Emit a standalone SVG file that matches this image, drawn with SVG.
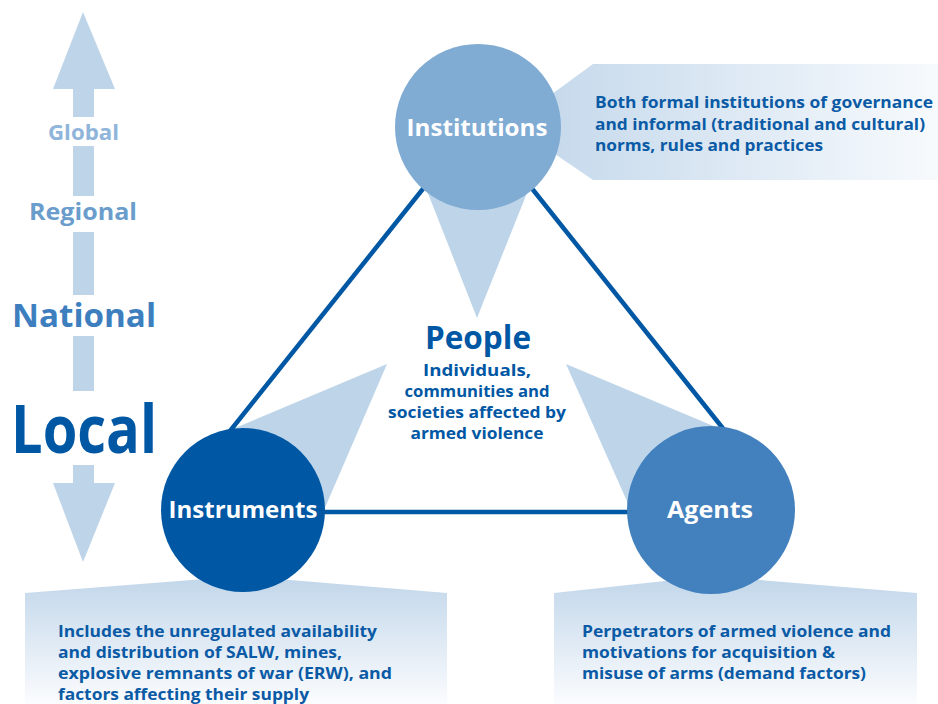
<svg xmlns="http://www.w3.org/2000/svg" width="938" height="704" viewBox="0 0 938 704">
<defs>
<linearGradient id="gH" x1="0" y1="0" x2="1" y2="0">
<stop offset="0" stop-color="#c1d6ea"/>
<stop offset="1" stop-color="#f7fafd"/>
</linearGradient>
<linearGradient id="gV" x1="0" y1="0" x2="0" y2="1">
<stop offset="0" stop-color="#c1d6ea"/>
<stop offset="1" stop-color="#fbfcfe"/>
</linearGradient>
<style>
text{font-family:"Open Sans","Liberation Sans",sans-serif;font-weight:bold}
.ptr{fill:#bed5e9}
.lbl{fill:#ffffff;font-size:24px;text-anchor:middle}
.desc{fill:#0a5aa5;font-size:16px}
.ppl{fill:#0057a4;text-anchor:middle}
.shaft{fill:#bed5e9}
</style>
</defs>
<rect width="938" height="704" fill="#ffffff"/>

<g id="scale">
<polygon class="shaft" points="83,12 115,89 53,89"/>
<rect class="shaft" x="73" y="89" width="21" height="28"/>
<rect class="shaft" x="73" y="146" width="21" height="50"/>
<rect class="shaft" x="73" y="232" width="21" height="63"/>
<rect class="shaft" x="73" y="336" width="21" height="55"/>
<rect class="shaft" x="73" y="465" width="21" height="18"/>
<polygon class="shaft" points="53,483 115,483 83,562"/>
<text x="83.5" y="140" font-size="21" fill="#8fb5da" text-anchor="middle" textLength="71" lengthAdjust="spacingAndGlyphs">Global</text>
<text x="83" y="220" font-size="23" fill="#6b9dcc" text-anchor="middle" textLength="108" lengthAdjust="spacingAndGlyphs">Regional</text>
<text x="84" y="327" font-size="32" fill="#3d7ebf" text-anchor="middle" textLength="144" lengthAdjust="spacingAndGlyphs">National</text>
<text x="84" y="453" font-size="66" fill="#0057a4" text-anchor="middle" textLength="146" lengthAdjust="spacingAndGlyphs">Local</text>
</g>

<g id="callout-institutions">
<polygon points="511,124 593,64 938,64 938,180 593,180" fill="url(#gH)"/>
<text class="desc" x="595" y="108" textLength="338" lengthAdjust="spacingAndGlyphs">Both formal institutions of governance</text>
<text class="desc" x="595" y="130" textLength="330" lengthAdjust="spacingAndGlyphs">and informal (traditional and cultural)</text>
<text class="desc" x="595" y="151" textLength="228" lengthAdjust="spacingAndGlyphs">norms, rules and practices</text>
</g>

<g id="callout-instruments">
<polygon points="25,593 243,576 447,593 447,704 25,704" fill="url(#gV)"/>
<text class="desc" x="58" y="637" textLength="319" lengthAdjust="spacingAndGlyphs">Includes the unregulated availability</text>
<text class="desc" x="58" y="658" textLength="284" lengthAdjust="spacingAndGlyphs">and distribution of SALW, mines,</text>
<text class="desc" x="58" y="679" textLength="334" lengthAdjust="spacingAndGlyphs">explosive remnants of war (ERW), and</text>
<text class="desc" x="58" y="700" textLength="251" lengthAdjust="spacingAndGlyphs">factors affecting their supply</text>
</g>

<g id="callout-agents">
<polygon points="554,593 711,576 917,593 917,704 554,704" fill="url(#gV)"/>
<text class="desc" x="582" y="637" textLength="309" lengthAdjust="spacingAndGlyphs">Perpetrators of armed violence and</text>
<text class="desc" x="582" y="658" textLength="253" lengthAdjust="spacingAndGlyphs">motivations for acquisition &amp;</text>
<text class="desc" x="582" y="679" textLength="284" lengthAdjust="spacingAndGlyphs">misuse of arms (demand factors)</text>
</g>

<g id="pointers">
<polygon class="ptr" points="418,168 537,168 477,318"/>
<polygon class="ptr" points="387,364 216,436 321,517"/>
<polygon class="ptr" points="566,364 634,517 730,433"/>
</g>

<g id="connectors" stroke="#0057a4" stroke-width="4.5" fill="none">
<line x1="430" y1="180" x2="226" y2="436"/>
<line x1="526" y1="181" x2="729" y2="436"/>
<line x1="320" y1="512" x2="635" y2="512"/>
</g>

<g id="node-institutions">
<circle cx="478" cy="127" r="83" fill="#80abd3"/>
<text class="lbl" x="477" y="136" textLength="141" lengthAdjust="spacingAndGlyphs">Institutions</text>
</g>

<g id="node-instruments">
<circle cx="243" cy="510" r="82" fill="#0057a4"/>
<text class="lbl" x="243" y="518" textLength="149" lengthAdjust="spacingAndGlyphs">Instruments</text>
</g>

<g id="node-agents">
<circle cx="711" cy="510" r="84" fill="#4281bd"/>
<text class="lbl" x="710" y="518" textLength="86" lengthAdjust="spacingAndGlyphs">Agents</text>
</g>

<g id="node-people">
<text class="ppl" x="478" y="349" font-size="32" textLength="106" lengthAdjust="spacingAndGlyphs">People</text>
<text class="ppl" x="477" y="376" font-size="16" textLength="108" lengthAdjust="spacingAndGlyphs">Individuals,</text>
<text class="ppl" x="477" y="397" font-size="16" textLength="145" lengthAdjust="spacingAndGlyphs">communities and</text>
<text class="ppl" x="477" y="418" font-size="16" textLength="178" lengthAdjust="spacingAndGlyphs">societies affected by</text>
<text class="ppl" x="477" y="439" font-size="16" textLength="133" lengthAdjust="spacingAndGlyphs">armed violence</text>
</g>
</svg>
